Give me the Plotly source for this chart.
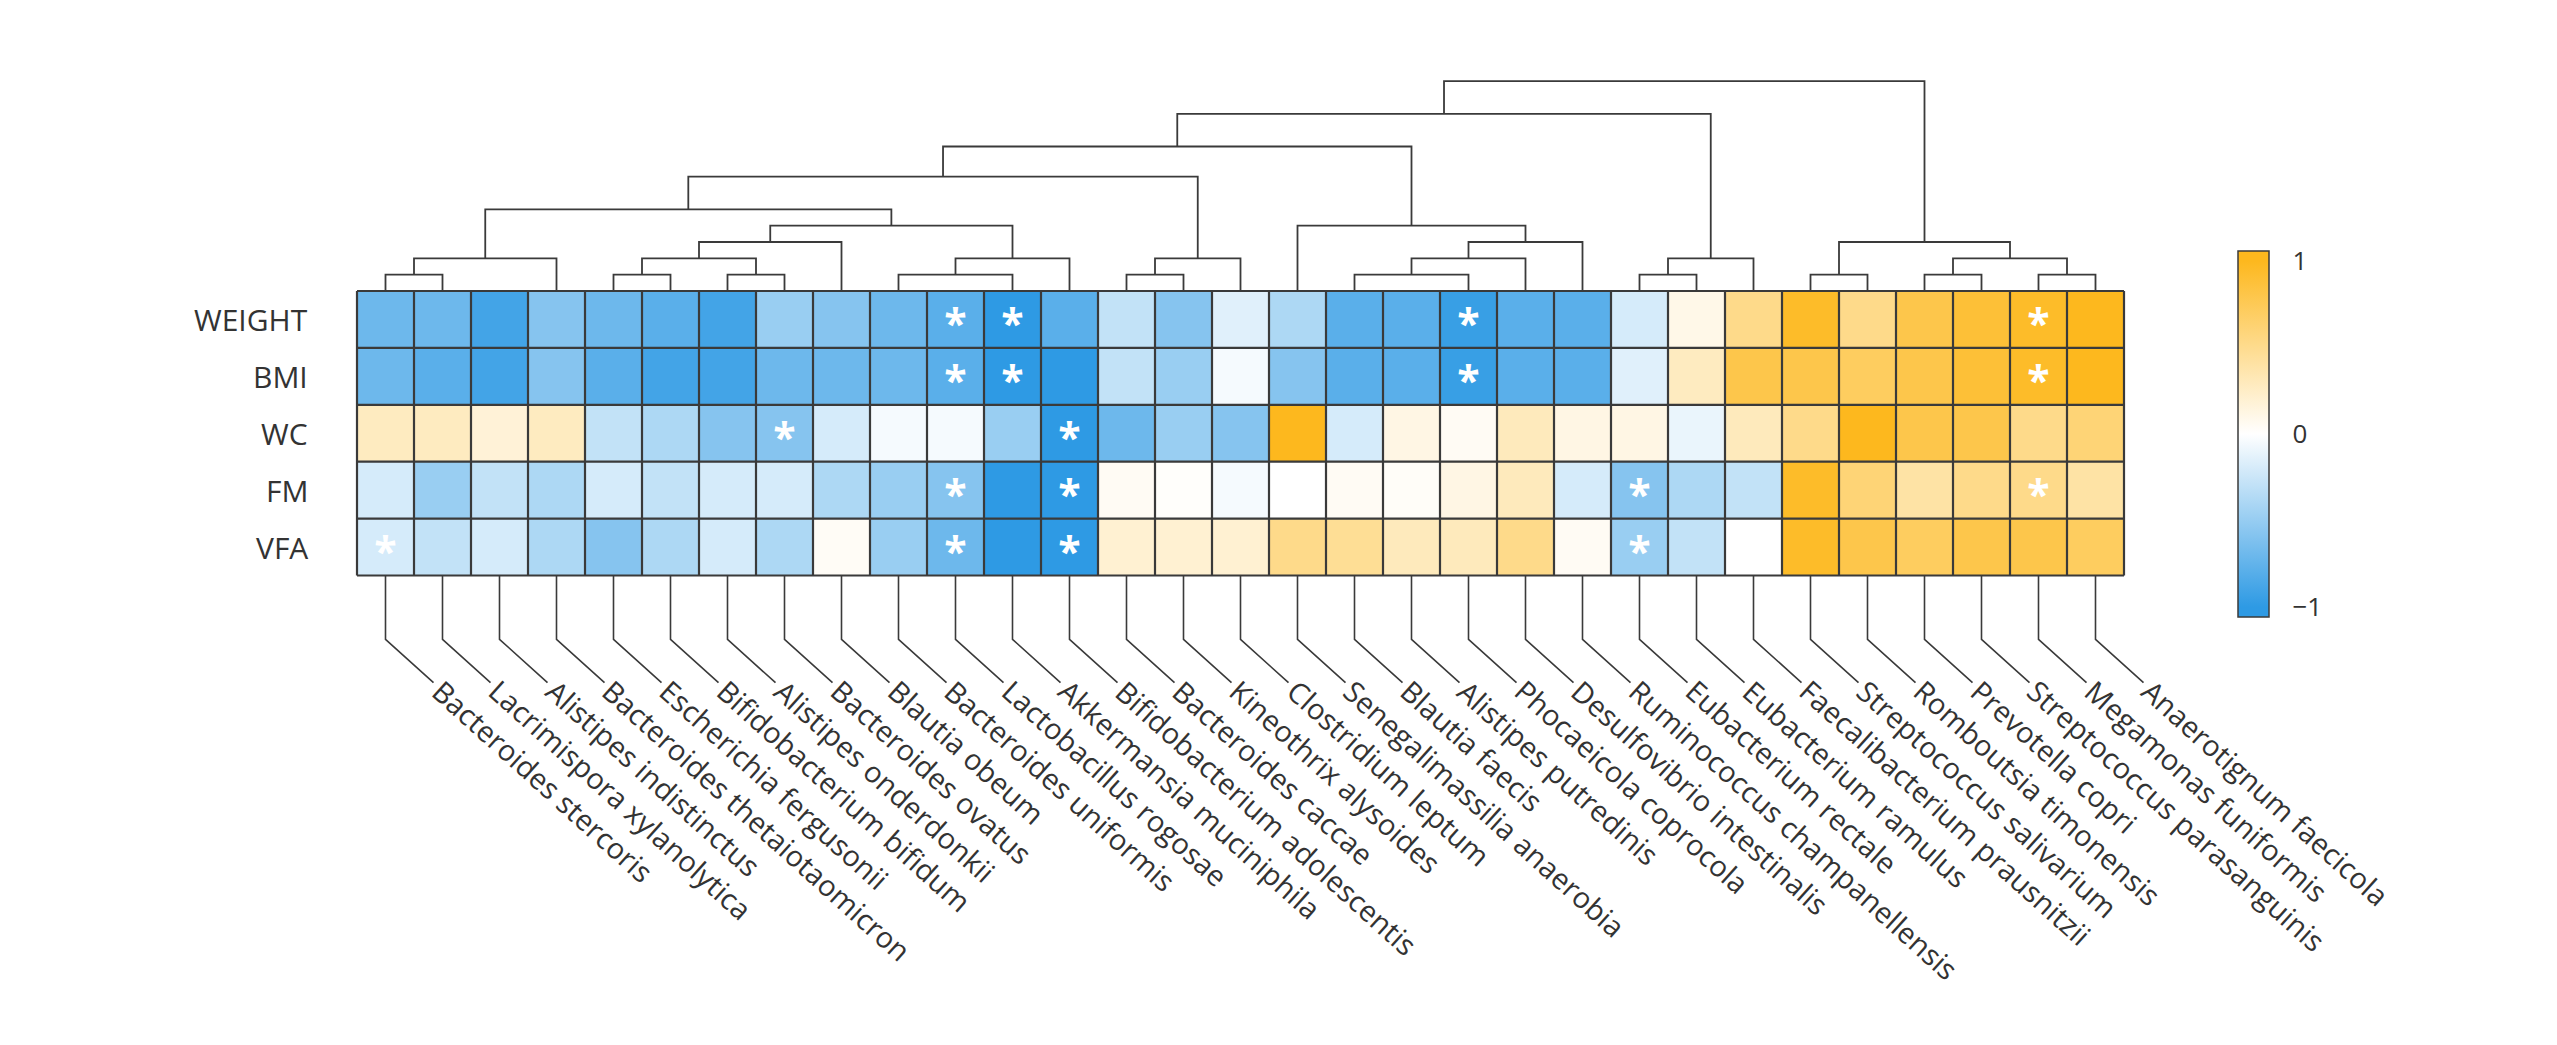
import math
import plotly.graph_objects as go

# ---------------- data ----------------
species = [
    "Bacteroides stercoris", "Lacrimispora xylanolytica", "Alistipes indistinctus",
    "Bacteroides thetaiotaomicron", "Escherichia fergusonii", "Bifidobacterium bifidum",
    "Alistipes onderdonkii", "Bacteroides ovatus", "Blautia obeum", "Bacteroides uniformis",
    "Lactobacillus rogosae", "Akkermansia muciniphila", "Bifidobacterium adolescentis",
    "Bacteroides caccae", "Kineothrix alysoides", "Clostridium leptum",
    "Senegalimassilia anaerobia", "Blautia faecis", "Alistipes putredinis",
    "Phocaeicola coprocola", "Desulfovibrio intestinalis", "Ruminococcus champanellensis",
    "Eubacterium rectale", "Eubacterium ramulus", "Faecalibacterium prausnitzii",
    "Streptococcus salivarium", "Romboutsia timonensis", "Prevotella copri",
    "Streptococcus parasanguinis", "Megamonas funiformis", "Anaerotignum faecicola",
]
traits = ["WEIGHT", "BMI", "WC", "FM", "VFA"]

weight = [-0.70, -0.70, -0.90, -0.58, -0.70, -0.79, -0.90, -0.49, -0.58, -0.70, -0.79,
          -1.00, -0.79, -0.29, -0.58, -0.15, -0.39, -0.79, -0.79, -0.95, -0.79, -0.79,
          -0.20, 0.10, 0.52, 0.95, 0.52, 0.80, 0.89, 0.95, 1.00]
bmi = [-0.70, -0.79, -0.90, -0.58, -0.79, -0.90, -0.90, -0.70, -0.70, -0.70, -0.79,
       -1.00, -1.00, -0.29, -0.49, -0.05, -0.58, -0.79, -0.79, -0.95, -0.79, -0.79,
       -0.15, 0.28, 0.80, 0.80, 0.71, 0.80, 0.89, 0.95, 1.00]
wc = [0.28, 0.28, 0.18, 0.28, -0.29, -0.39, -0.58, -0.58, -0.20, -0.05, -0.05,
      -0.49, -1.00, -0.70, -0.49, -0.58, 1.00, -0.20, 0.12, 0.05, 0.30, 0.12,
      0.12, -0.10, 0.30, 0.52, 1.00, 0.80, 0.80, 0.52, 0.61]
fm = [-0.20, -0.49, -0.29, -0.39, -0.20, -0.29, -0.20, -0.20, -0.39, -0.49, -0.58,
      -1.00, -1.00, 0.05, 0.02, -0.05, 0.00, 0.05, 0.03, 0.12, 0.30, -0.20,
      -0.58, -0.39, -0.29, 0.95, 0.61, 0.40, 0.52, 0.52, 0.40]
vfa = [-0.20, -0.29, -0.20, -0.39, -0.58, -0.39, -0.20, -0.39, 0.04, -0.49, -0.70,
       -1.00, -1.00, 0.20, 0.20, 0.20, 0.52, 0.47, 0.30, 0.30, 0.52, 0.05,
       -0.49, -0.29, 0.00, 0.95, 0.80, 0.71, 0.80, 0.80, 0.71]

# significant cells (column indices) per trait
sig_weight = [10, 11, 19, 29]
sig_bmi = [10, 11, 19, 29]
sig_wc = [7, 12]
sig_fm = [10, 12, 22, 29]
sig_vfa = [0, 10, 12, 22]

# column dendrogram: (child_a, child_b, merge height); ids >= 31 are earlier merges
linkage = [
    (0, 1, 1), (31, 3, 2), (4, 5, 1), (6, 7, 1), (33, 34, 2), (35, 8, 3),
    (9, 11, 1), (37, 12, 2), (36, 38, 4), (32, 39, 5), (13, 14, 1), (41, 15, 2),
    (40, 42, 7), (17, 19, 1), (44, 20, 2), (45, 21, 3), (16, 46, 4), (43, 47, 8.85),
    (22, 23, 1), (49, 24, 2), (48, 50, 10.85), (25, 26, 1), (27, 28, 1), (29, 30, 1),
    (53, 54, 2), (52, 55, 3), (51, 56, 12.85),
]

cbar_ticks = [-1, 0, 1]
cbar_text = ["\u22121", "0", "1"]

# ---------------- layout constants (pixels) ----------------
W, H = 2557, 1045
X0, Y0 = 357.0, 291.0      # heatmap top-left corner
CW, CH = 57.0, 56.9        # cell size
DEND_UNIT = 16.33          # px per dendrogram height unit
FONT = "Open Sans"
TXT = "#333333"
LINE = "#3a3a3a"
BLUE = "#2E9AE4"
ORANGE = "#FDB81E"
ZM = 1.058


def px_x(p):
    return (p - X0) / CW - 0.5


def px_y(q):
    return (q - Y0) / CH - 0.5


n = len(species)
nr = len(traits)
z = [weight, bmi, wc, fm, vfa]
sigs = [sig_weight, sig_bmi, sig_wc, sig_fm, sig_vfa]

f = (ZM - 1) / (2 * ZM)
colorscale = [[0, BLUE], [f, BLUE], [0.5, "#FFFFFF"], [1 - f, ORANGE], [1, ORANGE]]

fig = go.Figure()

fig.add_trace(go.Heatmap(
    z=z, x=list(range(n)), y=list(range(nr)),
    zmin=-ZM, zmax=ZM, colorscale=colorscale, hoverinfo="skip",
    colorbar=dict(
        x=2237.5 / W, xanchor="left", xpad=0,
        y=1 - 433.7 / H, yanchor="middle", len=366 / H, lenmode="fraction", ypad=0,
        thickness=31, thicknessmode="pixels",
        outlinewidth=1.5, outlinecolor=LINE,
        tickvals=cbar_ticks, ticktext=cbar_text,
        ticks="outside", ticklen=18, tickcolor="rgba(0,0,0,0)",
        tickfont=dict(family=FONT, size=26, color=TXT),
    ),
))

# grid lines around cells
gx, gy = [], []
for i in range(n + 1):
    gx += [i - 0.5, i - 0.5, None]
    gy += [-0.5, nr - 0.5, None]
for j in range(nr + 1):
    gx += [-0.5, n - 0.5, None]
    gy += [j - 0.5, j - 0.5, None]
fig.add_trace(go.Scatter(x=gx, y=gy, mode="lines", line=dict(color=LINE, width=2.2),
                         hoverinfo="skip", showlegend=False))

# significance asterisks
STAR_SIZE = 41
ax_, ay_ = [], []
for r, cols in enumerate(sigs):
    for c in cols:
        ax_.append(c)
        ay_.append(r + 0.21 * STAR_SIZE / CH)
fig.add_trace(go.Scatter(x=ax_, y=ay_, mode="text", text=["*"] * len(ax_),
                         textposition="middle center",
                         textfont=dict(family=FONT, size=STAR_SIZE, color="white",
                                       weight="bold"),
                         hoverinfo="skip", showlegend=False))

# dendrogram


def hy(h):
    return -0.5 - h * DEND_UNIT / CH


node_x = {i: float(i) for i in range(n)}
node_h = {i: 0.0 for i in range(n)}
dx, dy = [], []
for k, (a, b, h) in enumerate(linkage):
    xa, xb = node_x[a], node_x[b]
    dx += [xa, xa, xb, xb, None]
    dy += [hy(node_h[a]), hy(h), hy(h), hy(node_h[b]), None]
    node_x[n + k] = (xa + xb) / 2
    node_h[n + k] = h
fig.add_trace(go.Scatter(x=dx, y=dy, mode="lines", line=dict(color=LINE, width=1.8),
                         hoverinfo="skip", showlegend=False))

# label connectors
ANG = 42.0
BEND_PX = 639.3
DIAG_DX, DIAG_DY = 48.0, 43.4
y_bend = px_y(BEND_PX)
y_end = px_y(BEND_PX + DIAG_DY)
cx, cy = [], []
for i in range(n):
    cx += [i, i, i + DIAG_DX / CW, None]
    cy += [nr - 0.5, y_bend, y_end, None]
fig.add_trace(go.Scatter(x=cx, y=cy, mode="lines", line=dict(color=LINE, width=1.6),
                         hoverinfo="skip", showlegend=False))

# rotated column labels
LBL_SIZE = 29
th = math.radians(ANG)
box_h = LBL_SIZE * 1.36 + 4
gap = 3.0
off_x = DIAG_DX + gap * math.cos(th) - box_h / 2 * math.sin(th)
off_y = gap * math.sin(th) - box_h / 2 * math.cos(th)
annotations = []
for i, name in enumerate(species):
    annotations.append(dict(
        x=i + off_x / CW, y=y_end + off_y / CH, xref="x", yref="y",
        text=name, showarrow=False, textangle=ANG,
        xanchor="left", yanchor="top",
        font=dict(family=FONT, size=LBL_SIZE, color=TXT),
    ))

# row labels
for r, t in enumerate(traits):
    annotations.append(dict(
        x=px_x(310), y=r, xref="x", yref="y", text=t, showarrow=False,
        xanchor="right", yanchor="middle",
        font=dict(family=FONT, size=30, color=TXT),
    ))

fig.update_layout(
    width=W, height=H, margin=dict(l=0, r=0, t=0, b=0),
    paper_bgcolor="white", plot_bgcolor="white",
    showlegend=False, annotations=annotations,
    xaxis=dict(range=[px_x(0), px_x(W)], visible=False, showgrid=False, zeroline=False),
    yaxis=dict(range=[px_y(H), px_y(0)], visible=False, showgrid=False, zeroline=False),
)

fig.write_html("out.html", config={"displayModeBar": False},
               post_script="document.body.style.margin='0';")
